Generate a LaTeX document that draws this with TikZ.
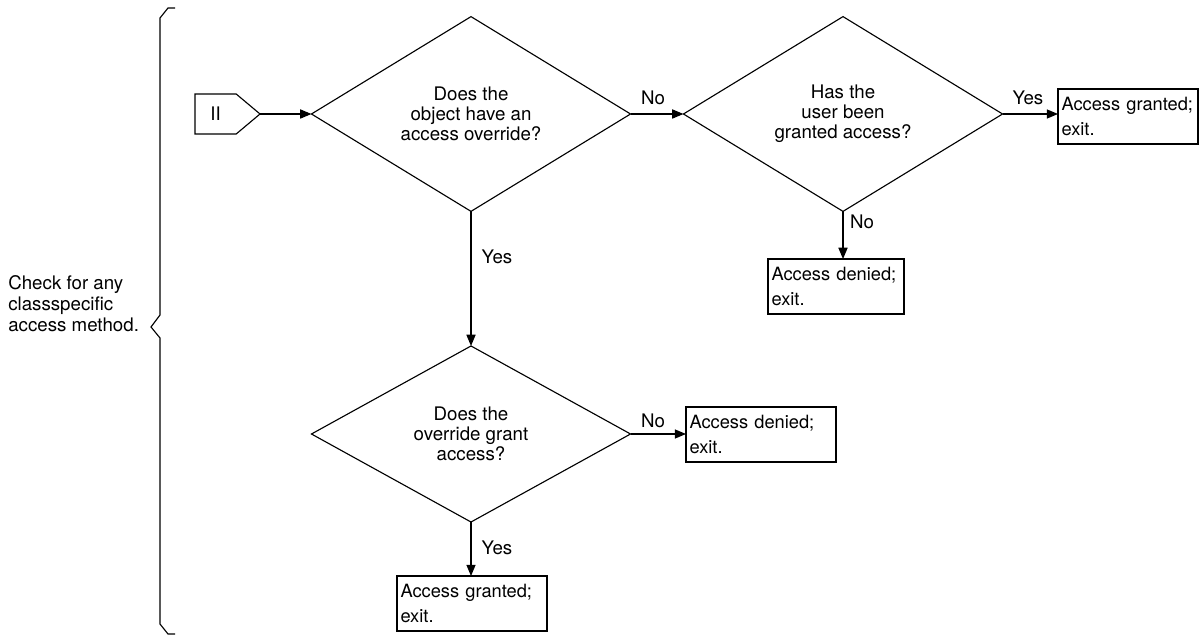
\documentclass[tikz,border=0pt]{standalone}
\usepackage{fontspec}
\setmainfont{TeX Gyre Heros}
\usepackage{tikz}
\usetikzlibrary{arrows.meta}
\usetikzlibrary{shapes.geometric,shapes.symbols}
\usetikzlibrary{calc}
\tikzstyle{flow}=[line width=.8pt, -{Triangle[length=8pt,width=6.5pt]}]
\tikzstyle{decision}=[draw, line width=.8pt, diamond, inner sep=0pt, outer sep=0pt, minimum width=7.975cm, minimum height=4.4cm, align=center, font=\fontsize{13.3}{14.3}\selectfont]
\tikzstyle{exitbox}=[draw, line width=.8pt, rectangle, anchor=north west, inner sep=2.5pt, outer sep=0pt, minimum height=1.375cm, align=left, font=\fontsize{13}{17.8}\selectfont]
\tikzstyle{lbl}=[inner sep=0pt, font=\fontsize{13.3}{15}\selectfont]
\newcommand{\exitNbox}[4]{
	\node[exitbox, text width=#3-5pt] (#1) at #2 {Access #4;\\exit.};
}

\begin{document}
\begin{tikzpicture}[x=0.025cm, y=-0.025cm]
	\useasboundingbox (0,0) rectangle (1203,642);
	% brace and its note
	\draw[line width=.8pt] (175,8) -- (168,8) -- (160,18) -- (160,315) -- (151,327) -- (160,338) -- (160,624) -- (168,634) -- (175,634);
	\node[lbl, anchor=west, align=left, font=\fontsize{13.3}{15}\selectfont] (note) at (8,304) {Check for any\\classspecific\\access method.};
	% connector
	\node[draw, line width=.8pt, signal, signal to=east, signal pointer angle=80, inner sep=0pt, outer sep=0pt, minimum width=1.625cm, minimum height=1cm, anchor=west, font=\fontsize{13.3}{15}\selectfont] (conn) at (195,114) {II\hspace{6pt}};
	% decisions
	\node[decision] (d1) at (471,114) {Does the\\object have an\\access override?};
	\node[decision] (d2) at (843,114) {Has the\\user been\\granted access?};
	\node[decision] (d3) at (471,434) {Does the\\override grant\\access?};
	% exits
	\exitNbox{e1}{(1058,89)}{3.5cm}{granted}
	\exitNbox{e2}{(768,259)}{3.4cm}{denied}
	\exitNbox{e3}{(686,407)}{3.75cm}{denied}
	\exitNbox{e4}{(397,576)}{3.75cm}{granted}
	% flow lines
	\draw[flow] (conn.east) -- (d1.west);
	\draw[flow] (d1.east) -- (d2.west);
	\draw[flow] (d2.east) -- (d2.east -| e1.west);
	\draw[flow] (d2.south) -- (d2.south |- e2.north);
	\draw[flow] (d1.south) -- (d3.north);
	\draw[flow] (d3.east) -- (d3.east -| e3.west);
	\draw[flow] (d3.south) -- (d3.south |- e4.north);
	% labels
	\node[lbl] (no1) at (653,98) {No};
	\node[lbl] (yes1) at (1028,98) {Yes};
	\node[lbl] (no2) at (862,222) {No};
	\node[lbl] (yes2) at (497,257) {Yes};
	\node[lbl] (no3) at (653,421) {No};
	\node[lbl] (yes3) at (497,548) {Yes};
\end{tikzpicture}
\end{document}
